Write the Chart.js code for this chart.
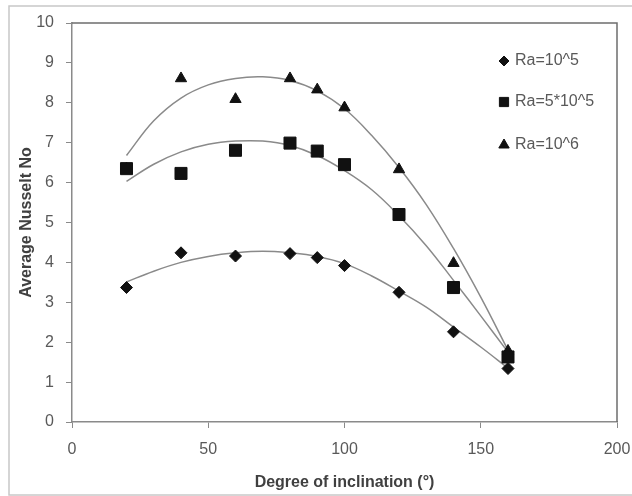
<!DOCTYPE html>
<html>
<head>
<meta charset="utf-8">
<script src="https://cdn.jsdelivr.net/npm/chart.js@4/dist/chart.umd.min.js"></script>
<style>
html,body{margin:0;padding:0;background:#fff;}
#wrap{width:632px;height:496px;position:relative;}
</style>
</head>
<body>
<div id="wrap"><canvas id="c" width="632" height="496"></canvas></div>
<script>
// ---- data ----
const angles = [20, 40, 60, 80, 90, 100, 120, 140, 160];
const nuRa1e5 = [3.37, 4.24, 4.16, 4.22, 4.12, 3.92, 3.25, 2.26, 1.34];
const nuRa5e5 = [6.35, 6.23, 6.81, 6.99, 6.79, 6.45, 5.20, 3.37, 1.63];
const nuRa1e6 = [6.35, 8.61, 8.09, 8.61, 8.33, 7.88, 6.33, 3.98, 1.78];

// trendline values
const trendAngles = [20, 30, 40, 50, 60, 70, 80, 90, 100, 110, 120, 130, 140, 150, 160];
const trend1e5 = [3.51, 3.78, 4.00, 4.15, 4.24, 4.28, 4.24, 4.15, 3.97, 3.66, 3.28, 2.88, 2.38, 1.88, 1.35];
const trend5e5 = [6.03, 6.46, 6.77, 6.96, 7.04, 7.04, 6.93, 6.68, 6.30, 5.82, 5.17, 4.42, 3.55, 2.66, 1.75];
const trend1e6 = [6.68, 7.55, 8.12, 8.45, 8.61, 8.65, 8.56, 8.30, 7.85, 7.18, 6.38, 5.45, 4.35, 3.13, 1.80];

const seriesLabels = ['Ra=10^5', 'Ra=5*10^5', 'Ra=10^6'];
const xTitle = 'Degree of inclination (°)';
const yTitle = 'Average Nusselt No';

const pts = (xs, ys) => xs.map((x, i) => ({x: x, y: ys[i]}));

const markerColor = '#111111';
const trendColor = '#8a8a8a';
const textColor = '#595959';
const FONT = "'Liberation Sans', Arial, sans-serif";

const scatterStyle = (style, r) => ({
  type: 'scatter', showLine: false, pointStyle: style, pointRadius: r, pointHoverRadius: r,
  backgroundColor: markerColor, borderColor: markerColor, borderWidth: 1
});
const trendStyle = {
  type: 'line', showLine: true, pointRadius: 0, borderColor: trendColor, borderWidth: 1.5,
  tension: 0.4, fill: false
};

const frame = {
  id: 'frame',
  beforeDraw(chart) {
    const ctx = chart.ctx;
    ctx.save();
    ctx.strokeStyle = '#c8c8c8';
    ctx.lineWidth = 1.5;
    ctx.strokeRect(9, 6, 650, 489);
    ctx.restore();
  },
  afterDatasetsDraw(chart) {
    const ctx = chart.ctx, a = chart.chartArea;
    ctx.save();
    ctx.strokeStyle = '#6e6e6e';
    ctx.lineWidth = 1.5;
    ctx.beginPath();
    ctx.moveTo(a.left, a.top); ctx.lineTo(a.right, a.top); ctx.lineTo(a.right, a.bottom);
    ctx.stroke();
    // legend
    const styles = [['rectRot', 5], ['rect', 6.5], ['triangle', 6]];
    const rows = [61, 102, 145];
    ctx.font = '16px ' + FONT;
    ctx.textBaseline = 'middle';
    ctx.textAlign = 'left';
    for (let i = 0; i < 3; i++) {
      ctx.fillStyle = markerColor; ctx.strokeStyle = markerColor; ctx.lineWidth = 1;
      Chart.helpers.drawPoint(ctx, {pointStyle: styles[i][0], radius: styles[i][1], borderWidth: 1}, 504, rows[i]);
      ctx.fillStyle = textColor;
      ctx.fillText(seriesLabels[i], 515, rows[i]);
    }
    ctx.restore();
  }
};

new Chart(document.getElementById('c'), {
  data: {
    datasets: [
      Object.assign({label: seriesLabels[0], data: pts(angles, nuRa1e5)}, scatterStyle('rectRot', 6)),
      Object.assign({label: seriesLabels[1], data: pts(angles, nuRa5e5)}, scatterStyle('rect', 8.5)),
      Object.assign({label: seriesLabels[2], data: pts(angles, nuRa1e6)}, scatterStyle('triangle', 6.5)),
      Object.assign({label: 'trend1', data: pts(trendAngles, trend1e5)}, trendStyle),
      Object.assign({label: 'trend2', data: pts(trendAngles, trend5e5)}, trendStyle),
      Object.assign({label: 'trend3', data: pts(trendAngles, trend1e6)}, trendStyle)
    ]
  },
  options: {
    responsive: false,
    animation: false,
    events: [],
    layout: {padding: {left: 0, top: 23, right: 15, bottom: 0}},
    plugins: {legend: {display: false}, tooltip: {enabled: false}},
    scales: {
      x: {
        type: 'linear', min: 0, max: 200,
        ticks: {stepSize: 50, color: textColor, font: {family: FONT, size: 16}, padding: 12},
        grid: {display: true, drawOnChartArea: false, drawTicks: true, tickLength: 6, color: '#8a8a8a'},
        border: {display: true, color: '#8a8a8a', width: 1.5},
        title: {display: true, text: xTitle, color: '#404040', font: {family: FONT, size: 16, weight: 'bold'}, padding: {top: 0, bottom: 4}},
        afterFit(s) { s.height = 74; s.paddingLeft = 0; s.paddingRight = 0; }
      },
      y: {
        type: 'linear', min: 0, max: 10,
        ticks: {stepSize: 1, color: textColor, font: {family: FONT, size: 16}, padding: 12},
        grid: {display: true, drawOnChartArea: false, drawTicks: true, tickLength: 6, color: '#8a8a8a'},
        border: {display: true, color: '#8a8a8a', width: 1.5},
        title: {display: true, text: yTitle, color: '#404040', font: {family: FONT, size: 16, weight: 'bold'}, padding: {top: 17, bottom: 0}},
        afterFit(s) { s.width = 72; s.paddingTop = 0; s.paddingBottom = 0; }
      }
    }
  },
  plugins: [frame]
});
</script>
</body>
</html>
